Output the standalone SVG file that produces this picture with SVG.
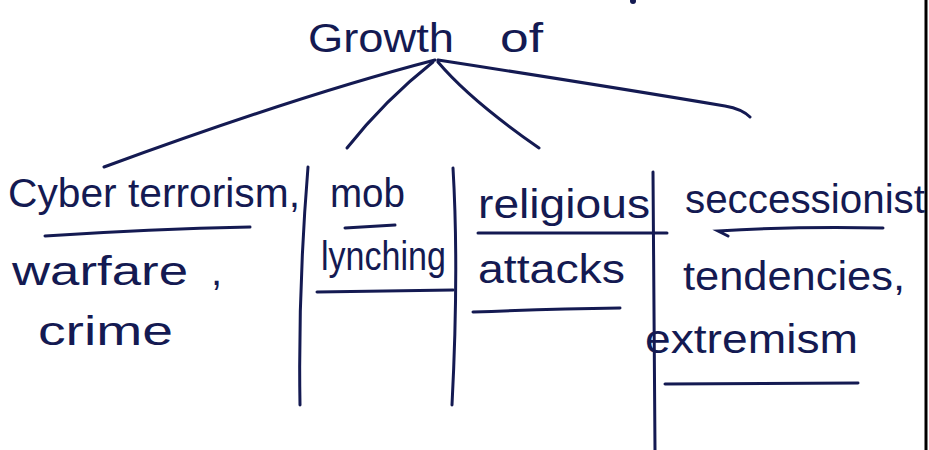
<svg xmlns="http://www.w3.org/2000/svg" width="929" height="450" viewBox="0 0 929 450">
<style>
.t{font-family:"Liberation Sans","DejaVu Sans",sans-serif;font-size:40px;fill:#141a52}
.ln{fill:none;stroke:#141a52;stroke-width:3;stroke-linecap:round;stroke-linejoin:round}
.ul{fill:none;stroke:#141a52;stroke-width:3;stroke-linecap:round}
</style>
<rect width="929" height="450" fill="#ffffff"/>
<circle cx="633" cy="1" r="3" fill="#141a52"/>
<line x1="926" y1="0" x2="926" y2="450" stroke="#000000" stroke-width="3"/>
<g id="root">
<text class="t" x="308" y="52" font-size="46" textLength="146" lengthAdjust="spacingAndGlyphs">Growth</text>
<text class="t" x="500" y="52" font-size="46" textLength="43" lengthAdjust="spacingAndGlyphs">of</text>
</g>
<g id="connectors">
<path class="ln" d="M435,60 Q300,95 104,167"/>
<path class="ln" d="M433,62 Q385,100 347,148"/>
<path class="ln" d="M438,62 Q470,100 539,148"/>
<path class="ln" d="M438,60 Q600,85 725,106 Q742,109 750,117"/>
</g>
<g id="dividers">
<path class="ln" d="M308,167 Q298,290 300,405"/>
<path class="ln" d="M453,168 Q459,270 452,405"/>
<path class="ln" d="M653,172 L655,450"/>
</g>
<g id="node-cyber">
<text class="t" x="8" y="207" font-size="42" textLength="292" lengthAdjust="spacingAndGlyphs">Cyber terrorism,</text>
<path class="ul" d="M45,236 Q150,229 250,227"/>
<text class="t" x="12" y="285" font-size="46" textLength="176" lengthAdjust="spacingAndGlyphs">warfare</text>
<text class="t" x="211" y="285" font-size="46">,</text>
<text class="t" x="38" y="345" font-size="46" textLength="135" lengthAdjust="spacingAndGlyphs">crime</text>
</g>
<g id="node-mob">
<text class="t" x="330" y="207" textLength="75" lengthAdjust="spacingAndGlyphs">mob</text>
<path class="ul" d="M345,228 L395,225"/>
<text class="t" x="321" y="270" font-size="38" textLength="125" lengthAdjust="spacingAndGlyphs">lynching</text>
<path class="ul" d="M317,292 L453,290"/>
</g>
<g id="node-religious">
<text class="t" x="478" y="218" font-size="44" textLength="172" lengthAdjust="spacingAndGlyphs">religious</text>
<path class="ul" d="M478,233 L667,233"/>
<text class="t" x="478" y="283" font-size="44" textLength="147" lengthAdjust="spacingAndGlyphs">attacks</text>
<path class="ul" d="M473,312 Q550,309 620,308"/>
</g>
<g id="node-secession">
<text class="t" x="685" y="213" textLength="240" lengthAdjust="spacingAndGlyphs">seccessionist</text>
<path class="ul" d="M728,236 L718,231 Q800,226 883,228"/>
<text class="t" x="683" y="290" font-size="42" textLength="222" lengthAdjust="spacingAndGlyphs">tendencies,</text>
<text class="t" x="645" y="353" font-size="42" textLength="213" lengthAdjust="spacingAndGlyphs">extremism</text>
<path class="ul" d="M665,384 L858,383"/>
</g>
</svg>
